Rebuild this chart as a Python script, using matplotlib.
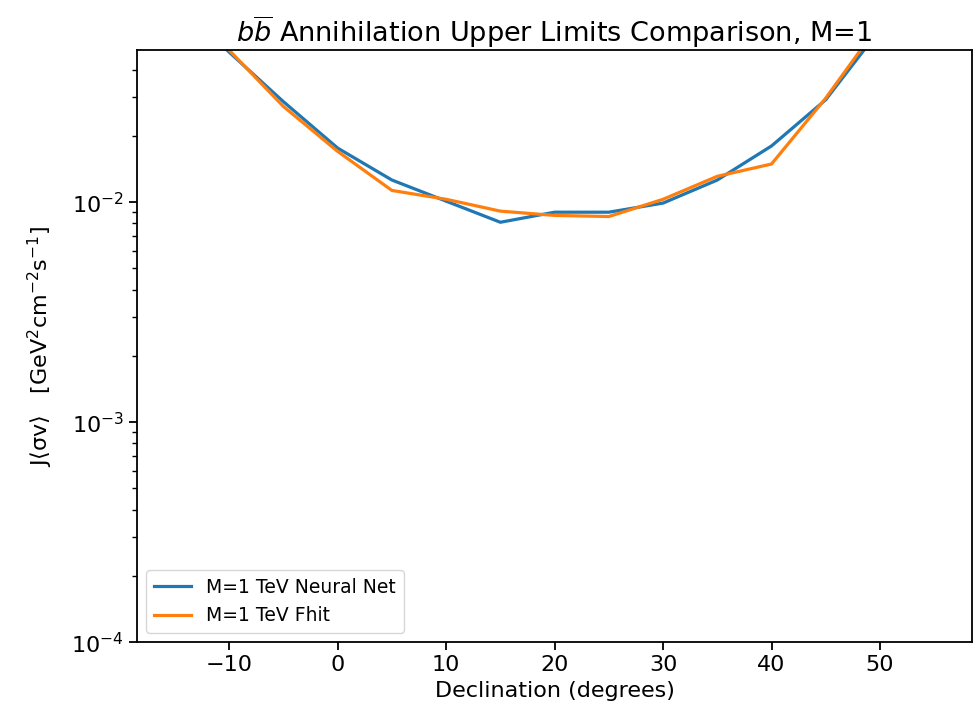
import matplotlib
matplotlib.use("Agg")
import matplotlib.pyplot as plt

# declination (degrees) and upper limits
declination = [-15, -10, -5, 0, 5, 10, 15, 20, 25, 30, 35, 40, 45, 50, 55]
neural_net = [0.085, 0.048, 0.0286, 0.0176, 0.0126, 0.0101, 0.0081, 0.0090, 0.0090,
              0.0099, 0.0126, 0.0180, 0.0292, 0.061, 0.10]
fhit = [0.090, 0.049, 0.0272, 0.0170, 0.0113, 0.0103, 0.0091, 0.0087, 0.0086,
        0.0103, 0.0131, 0.0149, 0.0297, 0.065, 0.11]

labels = ['M=1 TeV Neural Net', 'M=1 TeV Fhit']

fig = plt.figure(figsize=(9.79, 7.08), dpi=100)
ax = fig.add_axes([0.140, 0.093, 0.853, 0.836])

ax.plot(declination, neural_net, color='#1f77b4', lw=2.3, label=labels[0])
ax.plot(declination, fhit, color='#ff7f0e', lw=2.3, label=labels[1])

ax.set_yscale('log')
ax.set_ylim(1e-4, 0.049)
ax.set_xlim(-18.5, 58.5)

ax.set_title(r'$b\overline{b}$ Annihilation Upper Limits Comparison, M=1', fontsize=19.5)
ax.set_xlabel('Declination (degrees)', fontsize=16)
ax.set_ylabel('J⟨σv⟩   [GeV$^2$cm$^{-2}$s$^{-1}$]', fontsize=16, labelpad=12)
ax.tick_params(labelsize=16, width=1.3, length=6)
ax.tick_params(which='minor', width=1.0, length=3.5)
for s in ax.spines.values():
    s.set_linewidth(1.3)

ax.legend(loc='lower left', fontsize=13.5)

fig.savefig('out.png', dpi=100)
